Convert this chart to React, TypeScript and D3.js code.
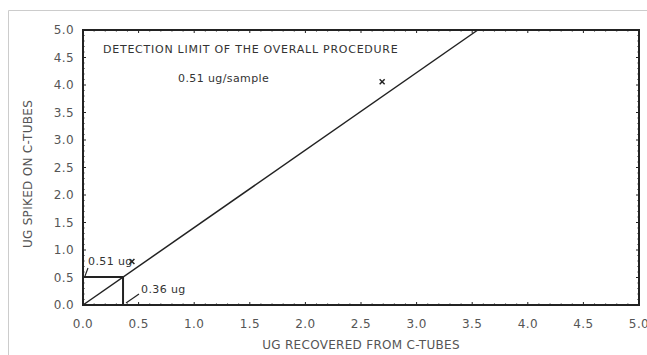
import React from "react";
import * as d3 from "d3";

const xTickValues = [0, 0.5, 1, 1.5, 2, 2.5, 3, 3.5, 4, 4.5, 5];
const yTickValues = [0, 0.5, 1, 1.5, 2, 2.5, 3, 3.5, 4, 4.5, 5];
const regressionX = [0, 3.55];
const regressionY = [0, 5.0];
const pointsX = [0.44, 2.69];
const pointsY = [0.79, 4.06];
const detectionX = 0.36;
const detectionY = 0.51;
const titleText = "DETECTION LIMIT OF THE OVERALL PROCEDURE";
const subtitleText = "0.51 ug/sample";
const xLabelText = "UG RECOVERED FROM C-TUBES";
const yLabelText = "UG SPIKED ON C-TUBES";
const detectionYLabel = "0.51 ug";
const detectionXLabel = "0.36 ug";

const W = 647;
const H = 355;
const left = 83;
const right = 639;
const top = 30;
const bottom = 305;
const font = "'DejaVu Sans', Verdana, sans-serif";
const textColor = "#555";
const ink = "#222";

export default function App() {
  const x = d3.scaleLinear().domain([0, 5]).range([left, right]);
  const y = d3.scaleLinear().domain([0, 5]).range([bottom, top]);
  const line = d3
    .line<number>()
    .x((_, i) => x(regressionX[i]))
    .y((d) => y(d));
  const minor = d3.range(0, 5.0001, 0.1);

  return (
    <svg
      width={W}
      height={H}
      style={{ position: "absolute", left: 0, top: 0, background: "#fff" }}
    >
      <line x1={8.5} y1={10.5} x2={W} y2={10.5} stroke="#ccc" />
      <line x1={8.5} y1={10.5} x2={8.5} y2={H} stroke="#ccc" />

      {/* minor ticks on frame */}
      {minor.map((v, i) => (
        <g key={"m" + i} stroke={ink} strokeWidth={1}>
          <line x1={x(v)} x2={x(v)} y1={bottom} y2={bottom - (i % 5 === 0 ? 3 : 1.5)} />
          <line x1={x(v)} x2={x(v)} y1={top} y2={top + (i % 5 === 0 ? 3 : 1.5)} />
          <line y1={y(v)} y2={y(v)} x1={left} x2={left + (i % 5 === 0 ? 3 : 1.5)} />
          <line y1={y(v)} y2={y(v)} x1={right} x2={right - (i % 5 === 0 ? 3 : 1.5)} />
        </g>
      ))}
      <rect
        x={left}
        y={top}
        width={right - left}
        height={bottom - top}
        fill="none"
        stroke={ink}
        strokeWidth={2}
      />

      {/* tick labels */}
      {yTickValues.map((v) => (
        <text
          key={"y" + v}
          x={left - 9}
          y={y(v)}
          dy="0.35em"
          textAnchor="end"
          fontFamily={font}
          fontSize={12}
          letterSpacing={0.4}
          fill={textColor}
        >
          {v.toFixed(1)}
        </text>
      ))}
      {xTickValues.map((v) => (
        <text
          key={"x" + v}
          x={x(v)}
          y={324}
          dy="0.35em"
          textAnchor="middle"
          fontFamily={font}
          fontSize={12}
          letterSpacing={0.4}
          fill={textColor}
        >
          {v.toFixed(1)}
        </text>
      ))}

      {/* axis titles */}
      <text
        x={(left + right) / 2}
        y={349}
        textAnchor="middle"
        fontFamily={font}
        fontSize={12}
        letterSpacing={0.3}
        fill={textColor}
      >
        {xLabelText}
      </text>
      <text
        transform={`translate(32,174) rotate(-90)`}
        textAnchor="middle"
        fontFamily={font}
        fontSize={12}
        letterSpacing={0.3}
        fill={textColor}
      >
        {yLabelText}
      </text>

      {/* regression line */}
      <path d={line(regressionY) || ""} fill="none" stroke={ink} strokeWidth={1.5} />

      {/* detection limit lines */}
      <line
        x1={x(0)}
        x2={x(detectionX)}
        y1={y(detectionY)}
        y2={y(detectionY)}
        stroke={ink}
        strokeWidth={2}
      />
      <line
        x1={x(detectionX)}
        x2={x(detectionX)}
        y1={y(detectionY)}
        y2={y(0)}
        stroke={ink}
        strokeWidth={2}
      />

      {/* points */}
      {pointsX.map((px, i) => {
        const cx = x(px);
        const cy = y(pointsY[i]);
        const s = 2.5;
        return (
          <g key={"p" + i} stroke={ink} strokeWidth={1.5}>
            <line x1={cx - s} x2={cx + s} y1={cy - s} y2={cy + s} />
            <line x1={cx - s} x2={cx + s} y1={cy + s} y2={cy - s} />
          </g>
        );
      })}

      {/* annotations */}
      <text x={103} y={53} fontFamily={font} fontSize={11} letterSpacing={0.75} fill="#333">
        {titleText}
      </text>
      <text x={178} y={82} fontFamily={font} fontSize={11} letterSpacing={0.4} fill="#333">
        {subtitleText}
      </text>
      <text x={88} y={265} fontFamily={font} fontSize={11} letterSpacing={0.4} fill="#333">
        {detectionYLabel}
      </text>
      <line x1={88} y1={268} x2={85} y2={y(detectionY) - 1} stroke={ink} strokeWidth={1.2} />
      <text x={141} y={293} fontFamily={font} fontSize={11} letterSpacing={0.4} fill="#333">
        {detectionXLabel}
      </text>
      <line x1={139} y1={294} x2={126} y2={303} stroke={ink} strokeWidth={1.2} />
    </svg>
  );
}
